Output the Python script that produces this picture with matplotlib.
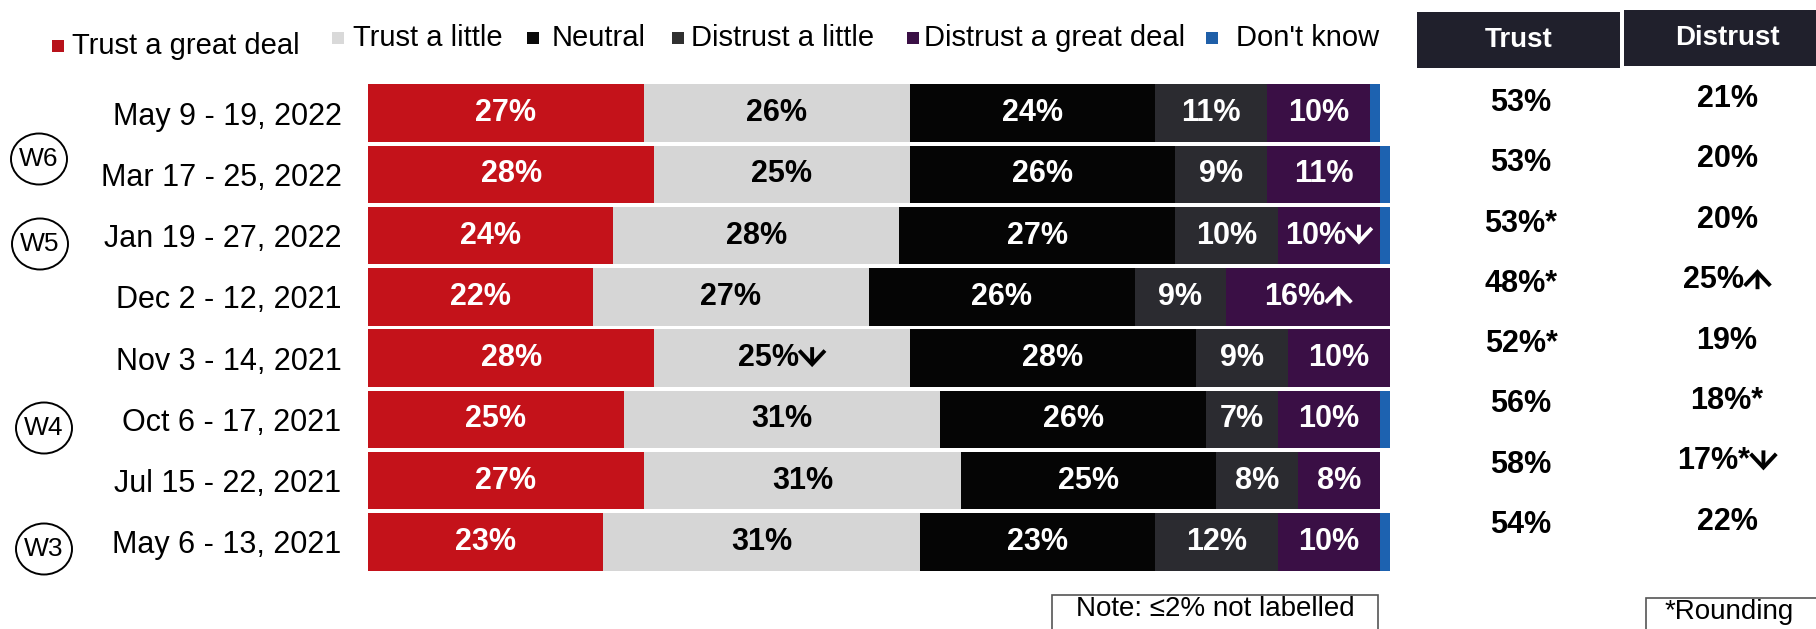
import matplotlib
matplotlib.use("Agg")
import matplotlib.pyplot as plt
from matplotlib.patches import Rectangle, Ellipse
import numpy as np

plt.rcParams['font.family'] = ['Liberation Sans', 'DejaVu Sans']

# ---------------- data ----------------
waves = ["May 9 - 19, 2022", "Mar 17 - 25, 2022", "Jan 19 - 27, 2022",
         "Dec 2 - 12, 2021", "Nov 3 - 14, 2021", "Oct 6 - 17, 2021",
         "Jul 15 - 22, 2021", "May 6 - 13, 2021"]
categories = ["Trust a great deal", "Trust a little", "Neutral",
              "Distrust a little", "Distrust a great deal", "Don't know"]
trust_great = [27, 28, 24, 22, 28, 25, 27, 23]
trust_little = [26, 25, 28, 27, 25, 31, 31, 31]
neutral = [24, 26, 27, 26, 28, 26, 25, 23]
distrust_little = [11, 9, 10, 9, 9, 7, 8, 12]
distrust_great = [10, 11, 10, 16, 10, 10, 8, 10]
dont_know = [1, 1, 1, 0, 1, 1, 0, 1]
trust_little_marks = ["", "", "", "", "↓", "", "", ""]
distrust_great_marks = ["", "", "↓", "↑", "", "", "", ""]
trust_total = ["53%", "53%", "53%*", "48%*", "52%*", "56%", "58%", "54%"]
distrust_total = ["21%", "20%", "20%", "25%↑", "19%", "18%*", "17%*↓", "22%"]
wave_markers = ["W6", "W5", "W4", "W3"]

series = [trust_great, trust_little, neutral, distrust_little, distrust_great, dont_know]
marks = [[""] * 8, trust_little_marks, [""] * 8, [""] * 8, distrust_great_marks, [""] * 8]
colors = ["#c4121a", "#d6d6d6", "#050505", "#2b2b30", "#3a0f45", "#1d62b0"]
legend_colors = ["#b8121b", "#d9d9d9", "#0a0a0a", "#303030", "#3a0f45", "#1f5fa8"]
text_colors = ["white", "black", "white", "white", "white", "white"]

W, H = 1816, 629
def fx(x):
    return x / W
def fy(y):
    return 1 - y / H

ARROWS = "↑↓"
LABEL_FS = 22
arrow_specs = []

def label_with_arrow(parent, x, y, s, color, transform, shift):
    """Draw s; a trailing ↑/↓ is drawn afterwards as a heavy chevron arrow."""
    if s and s[-1] in ARROWS:
        main = parent.text(x - shift, y, s[:-1], ha="center", va="center", color=color,
                           fontsize=LABEL_FS, fontweight="bold", transform=transform)
        arrow_specs.append((main, s[-1], color))
    else:
        parent.text(x, y, s, ha="center", va="center", color=color,
                    fontsize=LABEL_FS, fontweight="bold", transform=transform)

fig = plt.figure(figsize=(W / 100, H / 100), dpi=100)
fig.patch.set_facecolor("white")

# bar axes
row_top_px = 82.5
row_bot_px = 572.5
left_px, right_px = 368, 1390
ax = fig.add_axes([fx(left_px), fy(row_bot_px), (right_px - left_px) / W,
                   (row_bot_px - row_top_px) / H])
y = np.arange(len(waves))
left = np.zeros(len(waves))
for vals, mk, col, tcol in zip(series, marks, colors, text_colors):
    vals = np.array(vals, dtype=float)
    ax.barh(y, vals, left=left, height=0.94, color=col, edgecolor="none")
    for i, v in enumerate(vals):
        if v > 2:
            label_with_arrow(ax, left[i] + v / 2, y[i], f"{int(v)}%{mk[i]}", tcol,
                             ax.transData, 1.3 if mk[i] else 0)
    left += vals
ax.set_xlim(0, 100)
ax.set_ylim(len(waves) - 0.5, -0.5)
ax.set_yticks(y)
ax.set_yticklabels(waves, fontsize=22)
ax.tick_params(axis="y", length=0, pad=19)
ax.set_xticks([])
for s in ax.spines.values():
    s.set_visible(False)

# overlay axes for figure-level decorations (pixel-fraction coords)
ov = fig.add_axes([0, 0, 1, 1], zorder=5)
ov.set_xlim(0, 1)
ov.set_ylim(0, 1)
ov.axis("off")
ov.patch.set_alpha(0)
T = ov.transAxes

# wave circles
circle_xy = [(39, 159), (40, 244), (44, 428), (44, 549)]
for lab, (cx, cy) in zip(wave_markers, circle_xy):
    ov.add_patch(Ellipse((fx(cx), fy(cy)), 56 / W, 51 / H, transform=T,
                         fill=False, lw=1.4, edgecolor="black"))
    ov.text(fx(cx), fy(cy), lab, ha="center", va="center", fontsize=19, transform=T)

# legend (manual)
leg_sq_x = [52, 332, 527, 672, 907, 1206]
leg_tx_x = [72, 353, 552, 691, 924, 1236]
leg_y = [46, 38, 38, 38, 38, 38]
for cat, c, sx, tx, ly in zip(categories, legend_colors, leg_sq_x, leg_tx_x, leg_y):
    ov.add_patch(Rectangle((fx(sx), fy(ly + 6)), 12 / W, 12 / H, transform=T,
                           facecolor=c, edgecolor="none"))
    ov.text(fx(tx), fy(ly), cat, ha="left", va="center", fontsize=21, transform=T)

# right table header
ov.add_patch(Rectangle((fx(1417), fy(68)), (1620 - 1417) / W, 56 / H,
                       transform=T, facecolor="#20202c", edgecolor="none"))
ov.add_patch(Rectangle((fx(1624), fy(66)), (1816 - 1624) / W, 56 / H,
                       transform=T, facecolor="#20202c", edgecolor="none"))
ov.text(fx(1519), fy(40), "Trust", ha="center", va="center", color="white",
        fontsize=20, fontweight="bold", transform=T)
ov.text(fx(1727), fy(38), "Distrust", ha="center", va="center", color="white",
        fontsize=20, fontweight="bold", transform=T)

for i, (t, d) in enumerate(zip(trust_total, distrust_total)):
    label_with_arrow(ov, fx(1521), fy(103 + i * 60.3), t, "black", T, 0)
    label_with_arrow(ov, fx(1727), fy(99 + i * 60.4), d, "black", T,
                     13 / W if d[-1] in ARROWS else 0)

# notes
ov.add_patch(Rectangle((fx(1052), fy(640)), (1378 - 1052) / W, 45 / H,
                       transform=T, facecolor="white", edgecolor="#555555",
                       lw=1.2, clip_on=False))
ov.text(fx(1215), fy(609), "Note: ≤2% not labelled", ha="center", va="center",
        fontsize=20, transform=T)
ov.add_patch(Rectangle((fx(1646), fy(640)), (1830 - 1646) / W, 42 / H,
                       transform=T, facecolor="white", edgecolor="#555555",
                       lw=1.2, clip_on=False))
ov.text(fx(1665), fy(612), "*Rounding", ha="left", va="center", fontsize=20, transform=T)

# heavy chevron arrows placed right after their labels
fig.canvas.draw()
renderer = fig.canvas.get_renderer()
for main, a, col in arrow_specs:
    bb = main.get_window_extent(renderer)
    axx = bb.x1 + 13
    cy = (bb.y0 + bb.y1) / 2 + 1
    top, bot = cy + 10, cy - 10
    tail, head = ((axx, top), (axx, bot)) if a == "↓" else ((axx, bot), (axx, top))
    ov.annotate("", xy=head, xycoords="figure pixels", xytext=tail,
                textcoords="figure pixels",
                arrowprops=dict(arrowstyle="->,head_length=0.45,head_width=0.42",
                                lw=2.8, color=col, shrinkA=0, shrinkB=0,
                                mutation_scale=22, capstyle="butt",
                                joinstyle="miter"))

fig.savefig("out.png", dpi=100)
